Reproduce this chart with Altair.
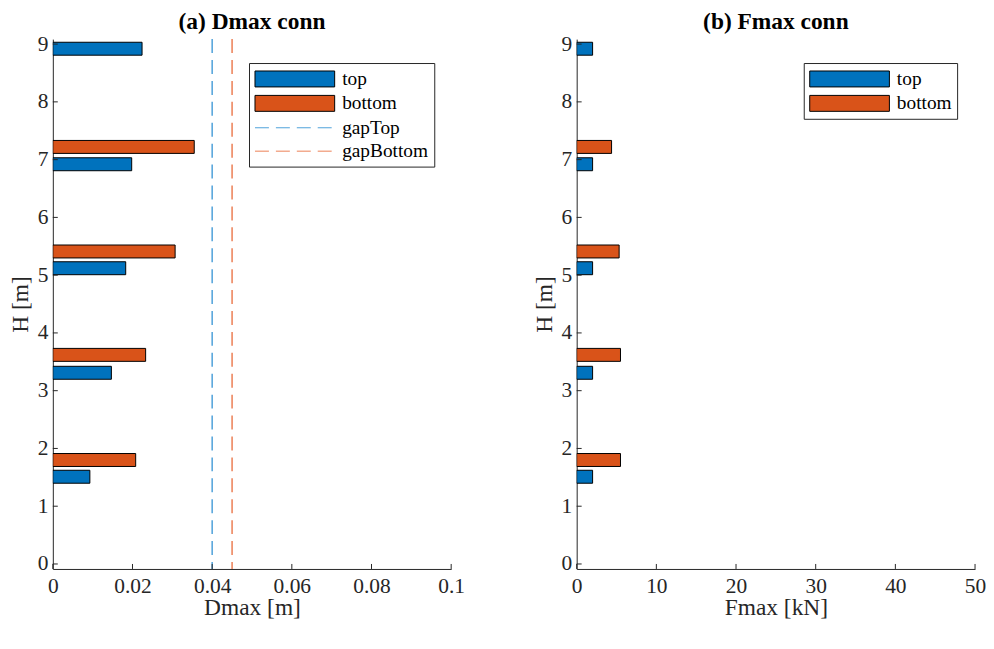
import altair as alt
import pandas as pd

# ---- data ----
H_top = [1.51, 3.31, 5.12, 6.92, 8.92]
H_bottom = [1.80, 3.62, 5.41, 7.22]
Dmax_top = [0.0093, 0.0147, 0.0183, 0.0198, 0.0224]
Dmax_bottom = [0.0208, 0.0233, 0.0307, 0.0355]
Fmax_top = [2.0, 2.0, 2.0, 2.0, 2.0]
Fmax_bottom = [5.5, 5.5, 5.33, 4.38]
gap_names = ["gapTop", "gapBottom"]
gap_values = [0.04, 0.045]
D_ticks = [0, 0.02, 0.04, 0.06, 0.08, 0.1]
F_ticks = [0, 10, 20, 30, 40, 50]
H_ticks = [0, 1, 2, 3, 4, 5, 6, 7, 8, 9]

BLUE = "#0072BD"
ORANGE = "#D95319"
LBLUE = "#4FA1DA"
LORANGE = "#EC7F55"
AX = "#262626"
FONT = "Liberation Serif, Times New Roman, serif"
TICK_FS = 21.5
LAB_FS = 23.5
LEG_FS = 19.4
W, H = 400, 532

df_D = pd.DataFrame({
    "H": H_top + H_bottom,
    "val": Dmax_top + Dmax_bottom,
    "series": ["top"] * len(H_top) + ["bottom"] * len(H_bottom),
})
df_F = pd.DataFrame({
    "H": H_top + H_bottom,
    "val": Fmax_top + Fmax_bottom,
    "series": ["top"] * len(H_top) + ["bottom"] * len(H_bottom),
})
df_gap = pd.DataFrame({"val": gap_values, "series": gap_names})
names_all = ["top", "bottom"] + gap_names
df_leg = pd.DataFrame({"series": names_all})

# legend symbols: size 400 -> unit = 10 px; drawn 80 px wide starting at the entry's left edge
RECT = "M-1,-0.8H7V0.8H-1Z"
DASH = "M-1,0H0.4M1.1,0H2.5M3.2,0H4.6M5.3,0H6.7"


def make_legend(x, y):
    return alt.Legend(
        orient="none", legendX=x, legendY=y, title=None,
        strokeColor=AX, fillColor="white", padding=5.5,
        labelFont=FONT, labelFontSize=LEG_FS, labelColor="black",
        symbolSize=400, symbolType=RECT, symbolOpacity=1, symbolStrokeWidth=1,
        labelOffset=67, rowPadding=3.5,
    )


def x_axis(vals, title, fmt):
    return alt.Axis(values=vals, format=fmt, title=title, labelPadding=7, titlePadding=-2,
                    labelFont=FONT, labelFontSize=TICK_FS, titleFont=FONT, titleFontSize=LAB_FS)


y_scale = alt.Scale(domain=[0, 9], nice=False, zero=False)
y_axis = alt.Axis(values=H_ticks, format="d", title="H [m]", labelPadding=5, titlePadding=4.5,
                  labelFont=FONT, labelFontSize=TICK_FS, titleFont=FONT, titleFontSize=LAB_FS)


def ticks_layer(xvals, xscale, xaxis):
    xt = alt.Chart(pd.DataFrame({"val": xvals})).mark_rule(color=AX, strokeWidth=1).encode(
        x=alt.X("val:Q", scale=xscale, axis=xaxis), y=alt.value(H), y2=alt.value(H - 5))
    yt = alt.Chart(pd.DataFrame({"H": H_ticks})).mark_rule(color=AX, strokeWidth=1).encode(
        y=alt.Y("H:Q", scale=y_scale, axis=y_axis), x=alt.value(0), x2=alt.value(5))
    return xt, yt


def panel_title(text):
    return alt.TitleParams(text, anchor="middle", frame="group", offset=0)


# ---- panel (a) ----
xD = alt.Scale(domain=[0, 0.1], nice=False, zero=False)
xD_axis = x_axis(D_ticks, "Dmax [m]", "~g")
fillD = alt.Scale(domain=names_all, range=[BLUE, ORANGE, "transparent", "transparent"])
strokeD = alt.Scale(domain=names_all, range=["black", "black", LBLUE, LORANGE])
shapeD = alt.Scale(domain=names_all, range=[RECT, RECT, DASH, DASH])
legA = make_legend(197, 24)

barsD = alt.Chart(df_D).mark_bar(orient="horizontal", size=13, strokeWidth=1, clip=True).encode(
    x=alt.X("val:Q", scale=xD, axis=xD_axis),
    y=alt.Y("H:Q", scale=y_scale, axis=y_axis),
    fill=alt.Fill("series:N", scale=fillD, legend=legA),
    stroke=alt.Stroke("series:N", scale=strokeD, legend=legA),
)
gaps = alt.Chart(df_gap).mark_rule(strokeDash=[14, 7], strokeWidth=1.5).encode(
    x=alt.X("val:Q", scale=xD, axis=xD_axis),
    stroke=alt.Stroke("series:N", scale=strokeD, legend=legA),
)
legpts = alt.Chart(df_leg).mark_point(filled=True, opacity=0, size=1).encode(
    x=alt.value(20), y=alt.value(20),
    fill=alt.Fill("series:N", scale=fillD, legend=legA),
    stroke=alt.Stroke("series:N", scale=strokeD, legend=legA),
    shape=alt.Shape("series:N", scale=shapeD, legend=legA),
)
xtD, ytD = ticks_layer(D_ticks, xD, xD_axis)
panelA = alt.layer(barsD, gaps, xtD, ytD, legpts).properties(
    width=W, height=H, title=panel_title("(a) Dmax conn"))

# ---- panel (b) ----
xF = alt.Scale(domain=[0, 50], nice=False, zero=False)
xF_axis = x_axis(F_ticks, "Fmax [kN]", "d")
colF = alt.Scale(domain=["top", "bottom"], range=[BLUE, ORANGE])
barsF = alt.Chart(df_F).mark_bar(orient="horizontal", size=13, stroke="black", strokeWidth=1, clip=True).encode(
    x=alt.X("val:Q", scale=xF, axis=xF_axis),
    y=alt.Y("H:Q", scale=y_scale, axis=y_axis),
    color=alt.Color("series:N", scale=colF, legend=make_legend(228, 24)),
)
xtF, ytF = ticks_layer(F_ticks, xF, xF_axis)
panelB = alt.layer(barsF, xtF, ytF).properties(
    width=W, height=H, title=panel_title("(b) Fmax conn"))

chart = alt.hconcat(panelA, panelB, spacing=67).resolve_scale(
    color="independent", fill="independent", stroke="independent", shape="independent"
).resolve_legend(
    color="independent", fill="independent", stroke="independent", shape="independent"
).properties(
    padding={"left": 0, "top": 0, "right": 0, "bottom": 0}
).configure_axis(
    labelFont=FONT, titleFont=FONT, labelFontSize=TICK_FS, titleFontSize=LAB_FS,
    labelColor=AX, titleColor=AX, domainColor=AX, domainWidth=1,
    ticks=False, grid=False, labelFlush=False, titleFontWeight="normal",
).configure_view(stroke=None).configure_title(
    font=FONT, fontSize=LAB_FS, fontWeight="bold", color="black"
)

chart.save("out.html", embed_options={"renderer": "svg", "actions": False})
